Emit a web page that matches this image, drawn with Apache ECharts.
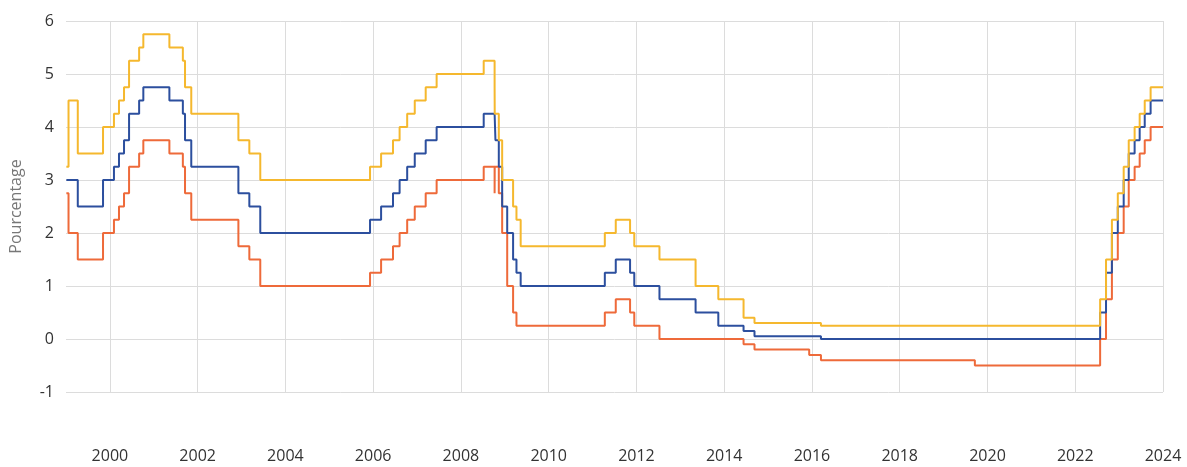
<!DOCTYPE html>
<html>
<head>
<meta charset="utf-8">
<script src="https://cdn.jsdelivr.net/npm/echarts@6/dist/echarts.min.js"></script>
<style>html,body{margin:0;padding:0;background:#fff}#c{width:1187px;height:467px}</style>
</head>
<body>
<div id="c"></div>
<script>
// Change dates of ECB key rates
const dates = ['1999-01-04','1999-01-22','1999-04-09','1999-11-05','2000-02-04','2000-03-17','2000-04-28','2000-06-09','2000-09-01','2000-10-06','2001-05-11','2001-08-31','2001-09-18','2001-11-09','2002-12-06','2003-03-07','2003-06-06','2005-12-06','2006-03-08','2006-06-15','2006-08-09','2006-10-11','2006-12-13','2007-03-14','2007-06-13','2008-07-09','2008-10-08','2008-10-09','2008-10-15','2008-11-12','2008-12-10','2009-01-21','2009-03-11','2009-04-08','2009-05-13','2011-04-13','2011-07-13','2011-11-09','2011-12-14','2012-07-11','2013-05-08','2013-11-13','2014-06-11','2014-09-10','2015-12-09','2016-03-16','2019-09-18','2022-07-27','2022-09-14','2022-11-02','2022-12-21','2023-02-08','2023-03-22','2023-05-10','2023-06-21','2023-08-02','2023-09-20','2024-01-01'];
const deposit = [2.75,2.00,1.50,2.00,2.25,2.50,2.75,3.25,3.50,3.75,3.50,3.25,2.75,2.25,1.75,1.50,1.00,1.25,1.50,1.75,2.00,2.25,2.50,2.75,3.00,3.25,2.75,3.25,3.25,2.75,2.00,1.00,0.50,0.25,0.25,0.50,0.75,0.50,0.25,0.00,0.00,0.00,-0.10,-0.20,-0.30,-0.40,-0.50,0.00,0.75,1.50,2.00,2.50,3.00,3.25,3.50,3.75,4.00,4.00];
const mro = [3.00,3.00,2.50,3.00,3.25,3.50,3.75,4.25,4.50,4.75,4.50,4.25,3.75,3.25,2.75,2.50,2.00,2.25,2.50,2.75,3.00,3.25,3.50,3.75,4.00,4.25,4.25,4.25,3.75,3.25,2.50,2.00,1.50,1.25,1.00,1.25,1.50,1.25,1.00,0.75,0.50,0.25,0.15,0.05,0.05,0.00,0.00,0.50,1.25,2.00,2.50,3.00,3.50,3.75,4.00,4.25,4.50,4.50];
const mlf = [3.25,4.50,3.50,4.00,4.25,4.50,4.75,5.25,5.50,5.75,5.50,5.25,4.75,4.25,3.75,3.50,3.00,3.25,3.50,3.75,4.00,4.25,4.50,4.75,5.00,5.25,4.75,4.25,4.25,3.75,3.00,3.00,2.50,2.25,1.75,2.00,2.25,2.00,1.75,1.50,1.00,0.75,0.40,0.30,0.30,0.25,0.25,0.75,1.50,2.25,2.75,3.25,3.75,4.00,4.25,4.50,4.75,4.75];
const xTicks = [2000,2002,2004,2006,2008,2010,2012,2014,2016,2018,2020,2022,2024];
const yName = 'Pourcentage';

function decYear(s){
  const d = new Date(s + 'T00:00:00Z');
  const y = d.getUTCFullYear();
  const start = Date.UTC(y,0,1), end = Date.UTC(y+1,0,1);
  return y + (d.getTime()-start)/(end-start);
}
const xs = dates.map(decYear);
const pairs = arr => arr.map((v,i)=>[xs[i], v]);

const chart = echarts.init(document.getElementById('c'), null, {renderer:'canvas'});
const font = "'Open Sans', 'Noto Sans', sans-serif";
chart.setOption({
  animation:false,
  grid:{left:65, right:24, top:21, bottom:75, containLabel:false},
  xAxis:{
    type:'value', min:1999, max:2024,
    axisLine:{show:false},
    axisTick:{show:false, customValues:xTicks},
    axisLabel:{customValues:xTicks, color:'#333', fontSize:16, fontFamily:font, margin:56, formatter:v=>String(v)},
    splitLine:{show:true, lineStyle:{color:'#dcdcdc', width:1}}
  },
  yAxis:{
    type:'value', min:-1, max:6, interval:1,
    name:yName, nameLocation:'middle', nameGap:42, nameRotate:90,
    nameTextStyle:{color:'#777', fontSize:16, fontFamily:font, padding:[0,0,0,0]},
    axisLine:{show:false}, axisTick:{show:false},
    axisLabel:{color:'#333', fontSize:16, fontFamily:font, margin:12},
    splitLine:{lineStyle:{color:'#dcdcdc', width:1}}
  },
  series:[
    {type:'line', step:'end', data:pairs(deposit), showSymbol:false, lineStyle:{color:'#EE6A3A', width:2}, itemStyle:{color:'#EE6A3A'}},
    {type:'line', step:'end', data:pairs(mro), showSymbol:false, lineStyle:{color:'#2C4F9E', width:2}, itemStyle:{color:'#2C4F9E'}},
    {type:'line', step:'end', data:pairs(mlf), showSymbol:false, lineStyle:{color:'#F5B82E', width:2}, itemStyle:{color:'#F5B82E'}}
  ]
});
</script>
</body>
</html>
